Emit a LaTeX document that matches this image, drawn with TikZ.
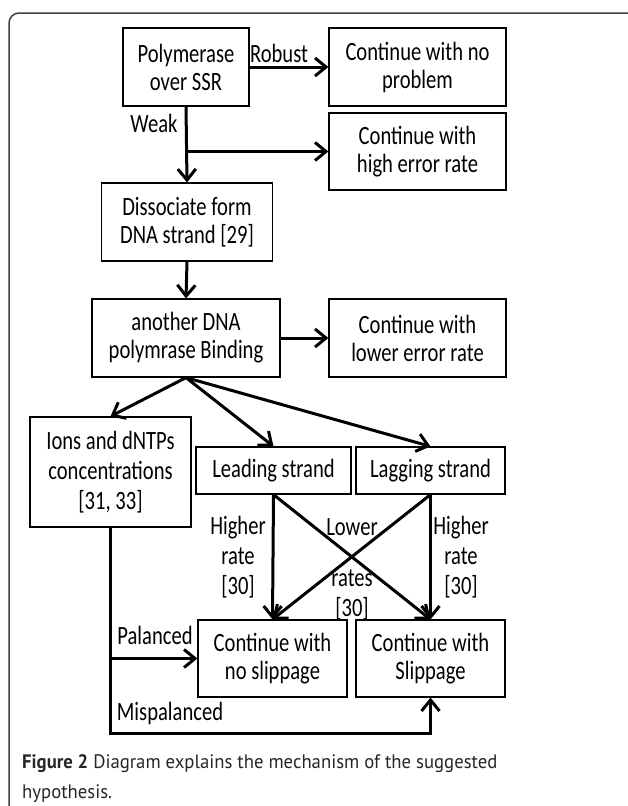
\documentclass[tikz,border=0pt]{standalone}
\usepackage{fontspec}
\newfontfamily\diagfont[FakeStretch=0.78]{Carlito}
\newfontfamily\capfont[FakeStretch=0.96]{PT Sans}
\usetikzlibrary{arrows.meta}

\begin{document}
\begin{tikzpicture}[x=1pt, y=-1pt,
        box/.style={draw, line width=1.2pt, align=center, inner sep=0pt},
        flow/.style={line width=3pt, -{Straight Barb[length=11pt, width=18pt]}},
        lbl/.style={align=center, inner sep=0pt},
        loose/.style={font=\fontsize{26.4}{30}\selectfont}]
            \useasboundingbox (0,0) rectangle (627,806);
            \draw[line width=1.5pt, black!75, rounded corners=10pt] (9,13) rectangle (645,820);
            \diagfont\fontsize{26.4}{28}\selectfont
            % boxes
            \node[box, minimum width=126, minimum height=78] (poly) at (186,67) {Polymerase\\over SSR};
            \node[box, minimum width=177, minimum height=78] (noprob) at (417.5,67) {Continue with no\\problem};
            \node[box, minimum width=177, minimum height=77] (higherr) at (417.5,151.5) {Continue with\\high error rate};
            \node[box, minimum width=171, minimum height=78] (dissoc) at (187,222) {Dissociate form\\DNA strand [29]};
            \node[box, minimum width=188, minimum height=78] (another) at (186,338) {another DNA\\polymrase Binding};
            \node[box, minimum width=177, minimum height=78] (lowerr) at (417.5,338) {Continue with\\lower error rate};
            \node[box, loose, minimum width=161, minimum height=110] (ions) at (110.5,472) {Ions and dNTPs\\concentrations\\{[31, 33]}};
            \node[box, minimum width=155, minimum height=47] (leading) at (273.5,470.5) {Leading strand};
            \node[box, minimum width=149, minimum height=47] (lagging) at (430.5,470.5) {Lagging strand};
            \node[box, minimum width=149, minimum height=77] (noslip) at (272.5,658.5) {Continue with\\no slippage};
            \node[box, minimum width=149, minimum height=77] (slip) at (430.5,658.5) {Continue with\\Slippage};
            % branch points
            \coordinate (weak-split) at (poly.south |- higherr.west);
            \coordinate (ions-split) at (ions.south |- noslip.west);
            \coordinate (ions-bottom) at (110.5,733);
            % arrows
            \draw[flow] (poly.east |- noprob.west) -- (noprob.west);
            \draw[flow] (poly.south) -- (dissoc.north);
            \draw[flow] (weak-split) -- (higherr.west);
            \draw[flow] (dissoc.south) -- (another.north);
            \draw[flow] (another.east |- lowerr.west) -- (lowerr.west);
            \draw[flow] (another.south) -- (ions.north);
            \draw[flow] (another.south) -- (leading.north);
            \draw[flow] (another.south) -- (lagging.north);
            \draw[flow] (leading.south) -- (noslip.north);
            \draw[flow] (lagging.south) -- (slip.north);
            \draw[flow] (leading.south) -- (slip.north);
            \draw[flow] (lagging.south) -- (noslip.north);
            \draw[flow] (ions-split) -- (noslip.west);
            \draw[flow] (ions.south) -- (ions-bottom) -| (slip.south);
            % labels
            \node[lbl] (robust) at (279,53) {Robust};
            \node[lbl] (weak) at (154,123) {Weak};
            \node[lbl, loose] (higher-l) at (238,557) {Higher\\rate\\{[30]}};
            \node[lbl] (lower) at (352,527) {Lower};
            \node[lbl, loose] (rates) at (352,595) {rates\\{[30]}};
            \node[lbl, loose] (higher-r) at (461,557) {Higher\\rate\\{[30]}};
            \node[lbl] (palanced) at (155,635) {Palanced};
            \node[lbl] (mispalanced) at (170,713) {Mispalanced};
            % caption
            \node[anchor=north west, align=left, inner sep=0pt, text=black!85,
                  font=\capfont\fontsize{19.5}{30}\selectfont] (caption) at (22,754)
                {\textbf{Figure 2} Diagram explains the mechanism of the suggested\\hypothesis.};
        \end{tikzpicture}
\end{document}
